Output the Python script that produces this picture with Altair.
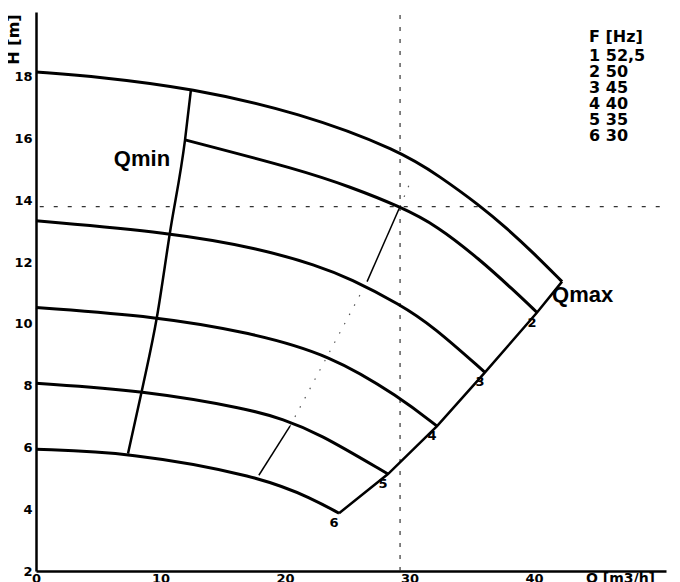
import altair as alt
import pandas as pd

# ---------------- data ----------------
freq_ids = ["1", "2", "3", "4", "5", "6"]
freq_hz = ["52,5", "50", "45", "40", "35", "30"]

q_1 = [0, 5.14, 12.37, 21.20, 29.24, 32.45, 35.66, 37.83, 39.92, 42.25]
h_1 = [18.16, 18.00, 17.64, 16.84, 15.61, 14.77, 13.83, 13.09, 12.31, 11.37]
q_2 = [11.97, 21.20, 25.22, 29.24, 32.21, 35.66, 38.31, 40.24]
h_2 = [15.96, 14.99, 14.44, 13.80, 13.18, 12.08, 11.11, 10.37]
q_3 = [0, 10.76, 17.99, 22.57, 25.22, 29.24, 31.89, 36.06]
h_3 = [13.34, 12.96, 12.44, 11.89, 11.47, 10.63, 9.92, 8.43]
q_4 = [0, 9.72, 17.19, 23.61, 29.24, 32.21]
h_4 = [10.53, 10.24, 9.72, 9.01, 7.62, 6.69]
q_5 = [0, 8.51, 17.19, 19.84, 22.57, 28.27]
h_5 = [8.08, 7.85, 7.24, 6.91, 6.49, 5.14]
q_6 = [0, 7.39, 17.99, 22.25, 24.34]
h_6 = [5.94, 5.85, 5.07, 4.33, 3.87]

qmin_q = [7.39, 8.51, 9.72, 10.76, 11.97, 12.45]
qmin_h = [5.80, 7.85, 10.24, 12.96, 15.96, 17.60]

eff_q = [17.9, 20.40, 26.59, 29.24, 30.04]
eff_h = [5.10, 6.69, 11.37, 13.80, 14.57]
eff_solid = [True, False, True, False]

duty_q = 29.24
duty_h = 13.80

x_ticks = [0, 10, 20, 30, 40]
y_ticks = [2, 4, 6, 8, 10, 12, 14, 16, 18]

# annotation anchor values (data units)
legend_title = "F [Hz]"
legend_q = 44.42
legend_title_h = 19.28
legend_rows_top_h = 18.93
qmin_label = ("Qmin", 8.51, 15.34)
qmax_label = ("Qmax", 41.45, 10.94)

X_DOMAIN = [0, 50.6]
Y_DOMAIN = [2, 20.1]

# ---------------- tables ----------------
curve_q = [q_1, q_2, q_3, q_4, q_5, q_6]
curve_h = [h_1, h_2, h_3, h_4, h_5, h_6]
rows = []
for cid, qs, hs in zip(freq_ids, curve_q, curve_h):
    for i, (q, h) in enumerate(zip(qs, hs)):
        rows.append({"curve": cid, "idx": i, "q": q, "h": h})
curves = pd.DataFrame(rows)

ends = pd.DataFrame({
    "curve": freq_ids,
    "q": [qs[-1] for qs in curve_q],
    "h": [hs[-1] for hs in curve_h],
})
ends["idx"] = range(len(ends))
ends_labels = ends[ends["curve"] != "1"]

qmin = pd.DataFrame({"q": qmin_q, "h": qmin_h, "idx": range(len(qmin_q))})

eff_rows = []
for s, solid in enumerate(eff_solid):
    for k in (s, s + 1):
        eff_rows.append({"seg": s, "solid": solid, "q": eff_q[k], "h": eff_h[k], "idx": k})
eff = pd.DataFrame(eff_rows)

vdash = pd.DataFrame({"q": [duty_q], "h": [Y_DOMAIN[0]], "h2": [20.0]})
hdash = pd.DataFrame({"h": [duty_h], "q": [0.3], "q2": [50.5]})

legend_lines = [f"{i} {hz}" for i, hz in zip(freq_ids, freq_hz)]
legend_head = pd.DataFrame({"q": [legend_q], "h": [legend_title_h]})
legend_body = pd.DataFrame({"q": [legend_q], "h": [legend_rows_top_h]})

qmin_df = pd.DataFrame({"t": [qmin_label[0]], "q": [qmin_label[1]], "h": [qmin_label[2]]})
qmax_df = pd.DataFrame({"t": [qmax_label[0]], "q": [qmax_label[1]], "h": [qmax_label[2]]})

# ---------------- encodings ----------------
xs = alt.Scale(domain=X_DOMAIN, nice=False, zero=False)
ys = alt.Scale(domain=Y_DOMAIN, nice=False, zero=False)

x_axis = alt.Axis(values=x_ticks, title="Q [m3/h]", grid=False, ticks=False,
                  labelFlush=False, labelPadding=1, labelFontSize=13,
                  titleX=584, titleY=0, titleAlign="center", titleBaseline="top",
                  titleFontSize=14)
y_axis = alt.Axis(values=y_ticks, title="H [m]", grid=False, ticks=False,
                  labelFlush=False, labelPadding=4, labelFontSize=13,
                  titleAngle=270, titleX=-23, titleY=27, titleAlign="center",
                  titleBaseline="middle", titleFontSize=16)

X = alt.X("q:Q", scale=xs, axis=x_axis)
Y = alt.Y("h:Q", scale=ys, axis=y_axis)

lines = alt.Chart(curves).mark_line(color="black", strokeWidth=3, interpolate="basis").encode(
    x=X, y=Y, detail="curve:N", order="idx:Q")

qmin_line = alt.Chart(qmin).mark_line(color="black", strokeWidth=2.5, interpolate="monotone").encode(
    x=X, y=Y, order="idx:Q")

qmax_line = alt.Chart(ends).mark_line(color="black", strokeWidth=2.5).encode(
    x=X, y=Y, order="idx:Q")

eff_solid_l = alt.Chart(eff[eff["solid"]]).mark_line(color="black", strokeWidth=1.5).encode(
    x=X, y=Y, detail="seg:N", order="idx:Q")
eff_dot_l = alt.Chart(eff[~eff["solid"]]).mark_line(color="#555", strokeWidth=1.2, strokeDash=[1.5, 9]).encode(
    x=X, y=Y, detail="seg:N", order="idx:Q")

vline = alt.Chart(vdash).mark_rule(color="#333", strokeWidth=1.2, strokeDash=[4, 8]).encode(
    x=X, y=Y, y2="h2:Q")
hline = alt.Chart(hdash).mark_rule(color="#333", strokeWidth=1.2, strokeDash=[4, 10]).encode(
    x=X, x2="q2:Q", y=Y)

end_text = alt.Chart(ends_labels).mark_text(font="DejaVu Sans", fontWeight="bold", fontSize=13,
                                            dx=-5, dy=10, color="black").encode(
    x=X, y=Y, text="curve:N")

qmin_text = alt.Chart(qmin_df).mark_text(font="Liberation Sans", fontWeight="bold", fontSize=22,
                                         baseline="middle", align="center", color="black").encode(
    x=X, y=Y, text="t:N")
qmax_text = alt.Chart(qmax_df).mark_text(font="Liberation Sans", fontWeight="bold", fontSize=22,
                                         baseline="middle", align="left", color="black").encode(
    x=X, y=Y, text="t:N")

leg_head = alt.Chart(legend_head).mark_text(
    text=legend_title, font="DejaVu Sans", fontWeight="bold", fontSize=16,
    baseline="middle", align="left", color="black").encode(x=X, y=Y)
leg_body = alt.Chart(legend_body).mark_text(
    text=legend_lines, lineHeight=16, font="DejaVu Sans", fontWeight="bold", fontSize=16,
    baseline="top", align="left", color="black").encode(x=X, y=Y)

chart = alt.layer(
    hline, vline, eff_solid_l, eff_dot_l, lines, qmin_line, qmax_line,
    end_text, qmin_text, qmax_text, leg_head, leg_body,
).properties(
    width=630, height=559,
    autosize=alt.AutoSizeParams(type="none"),
    padding={"left": 28, "top": 4, "right": 6, "bottom": 11},
    background="white",
).configure_view(stroke=None).configure_axis(
    labelFont="DejaVu Sans", labelFontWeight="bold", labelColor="black",
    titleFont="DejaVu Sans", titleFontWeight="bold", titleColor="black",
    domainColor="black", domainWidth=2.5,
)

chart.save("out.html", embed_options={"renderer": "svg", "actions": False})
